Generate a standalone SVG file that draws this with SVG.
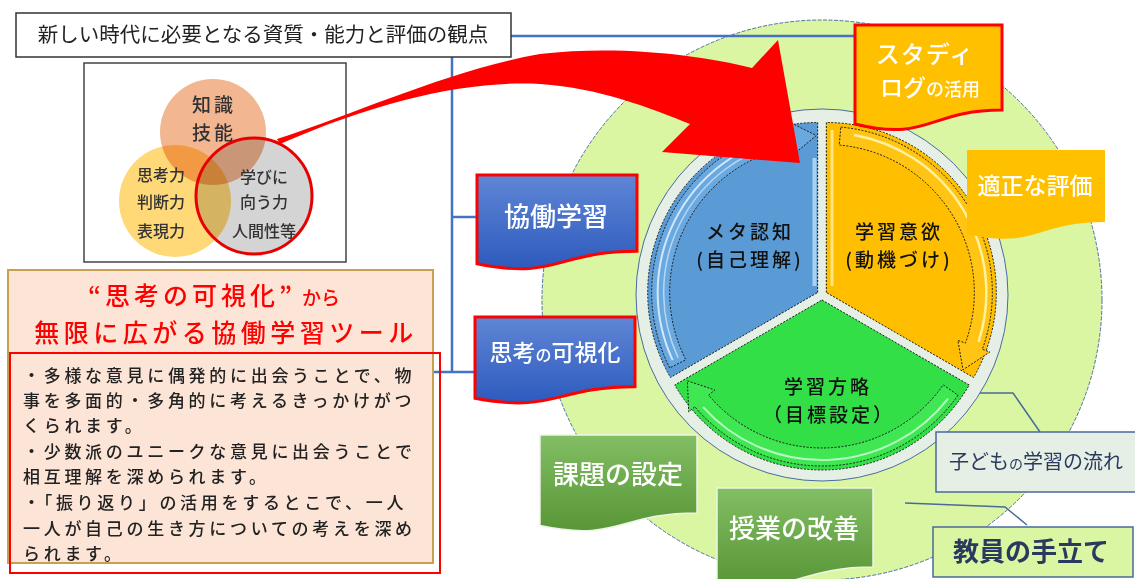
<svg xmlns="http://www.w3.org/2000/svg" width="1135" height="579" viewBox="0 0 1135 579">
<defs>
<style>
text{font-family:"Noto Sans CJK JP","Noto Sans",sans-serif}
.conn{stroke:#4472c4;stroke-width:2.5;fill:none}
.call{stroke:#4a6a9a;stroke-width:1.5;fill:none}
.dash{stroke:#1a1a1a;stroke-width:1;stroke-dasharray:2 1.5}
.w{fill:#fff;font-weight:500}
.pie{fill:#111;font-size:19px;letter-spacing:3px;text-anchor:middle;font-weight:500}
.venn{fill:#333;text-anchor:middle;font-weight:500}
.blt{fill:#222;font-size:17px;letter-spacing:3.7px;font-weight:500}
.navy{fill:#2a3a5e}
</style>
<linearGradient id="blueGrad" x1="0" y1="0" x2="0" y2="1"><stop offset="0" stop-color="#5f86d6"/><stop offset="1" stop-color="#2d5abd"/></linearGradient>
<linearGradient id="greenGrad" x1="0" y1="0" x2="0" y2="1"><stop offset="0" stop-color="#82be64"/><stop offset="1" stop-color="#589636"/></linearGradient>
</defs>
<rect width="1135" height="579" fill="#fff"/>

<g id="outer-circle">
<circle cx="822" cy="300" r="280" fill="#dbf6a2" stroke="#4f6fa6" stroke-width="1" stroke-dasharray="4 1.5"/>
</g>

<g id="pie">
<circle cx="822" cy="295" r="186" fill="#e6efe6" stroke="#4a6aa0" stroke-width="1"/>
<g id="sector-meta">
<path d="M817.67 292.5 L817.67 122.5 A170 170 0 0 0 670.45 377.5 Z" fill="#5b9bd5" class="dash"/>
<path d="M669.76 367.86 A166 166 0 0 1 788.84 129.02 L787.46 121.14 L816.3 135.5 L793.37 154.63 L791.98 146.75 A148 148 0 0 0 685.80 359.69 Z" fill="#6aa9e0" class="dash"/>
<path d="M672.66 360.12 A160 160 0 0 1 784.40 136.00" stroke="#d2e8fb" stroke-width="2" fill="none"/>
<path d="M678.10 357.58 A154 154 0 0 1 785.65 141.86" stroke="#b5d7f5" stroke-width="1.5" fill="none"/>
<line x1="814.5" y1="158" x2="814.5" y2="286" stroke="#a9d2f2" stroke-width="4"/>
<text class="pie" x="750" y="239">メタ認知</text>
<text class="pie" x="750" y="267">(自己理解)</text>
</g>
<g id="sector-motivation">
<path d="M826.33 292.5 L826.33 122.5 A170 170 0 0 1 973.55 377.5 Z" fill="#ffbf00" class="dash"/>
<path d="M840.80 127.13 A166 166 0 0 1 982.32 349.28 L989.84 352.01 L962.98 369.81 L957.89 340.38 L965.40 343.12 A148 148 0 0 0 839.23 145.06 Z" fill="#ffc414" class="dash"/>
<path d="M854.11 134.93 A160 160 0 0 1 978.50 341.94" stroke="#fff1a0" stroke-width="2.5" fill="none"/>
<line x1="832" y1="130" x2="832" y2="286" stroke="#ffe680" stroke-width="3"/>
<text class="pie" x="899" y="239">学習意欲</text>
<text class="pie" x="899" y="267">(動機づけ)</text>
</g>
<g id="sector-strategy">
<path d="M822 300 L969.22 385 A170 170 0 0 1 674.78 385 Z" fill="#33df47" class="dash"/>
<path d="M957.98 395.21 A166 166 0 0 1 694.84 406.70 L688.71 411.85 L687.42 380.86 L714.75 389.99 L708.63 395.13 A148 148 0 0 0 943.23 384.89 Z" fill="#3fe853" class="dash"/>
<path d="M948.08 398.51 A160 160 0 0 1 703.10 407.06" stroke="#b8f7c0" stroke-width="2" fill="none"/>
<text class="pie" x="828" y="394">学習方略</text>
<text class="pie" x="829" y="422">（目標設定）</text>
</g>
</g>

<g id="connectors">
<line class="conn" x1="510" y1="36" x2="857" y2="36"/>
<line class="conn" x1="452" y1="56" x2="452" y2="372"/>
<line class="conn" x1="452" y1="217" x2="478" y2="217"/>
<line class="conn" x1="433" y1="372" x2="476" y2="372"/>
<polyline class="call" points="980,393 1013,393 1040,432"/>
<polyline class="call" points="905,503 1005,507 1027,525"/>
</g>

<g id="title">
<rect x="16" y="13" width="495" height="44" fill="#fff" stroke="#333" stroke-width="1.5"/>
<text x="263" y="42" font-size="20.5" fill="#222" text-anchor="middle">新しい時代に必要となる資質・能力と評価の観点</text>
</g>

<g id="venn">
<rect x="84" y="63" width="262" height="199" fill="#fff" stroke="#444" stroke-width="1.5"/>
<g style="isolation:isolate">
<circle cx="213" cy="132" r="53" fill="#f2b690" style="mix-blend-mode:multiply"/>
<circle cx="175" cy="201" r="56" fill="#ffd877" style="mix-blend-mode:multiply"/>
<circle cx="254" cy="196" r="58" fill="#d4d4d4" style="mix-blend-mode:multiply"/>
</g>
<circle cx="254" cy="196" r="58" fill="none" stroke="#e60000" stroke-width="3"/>
<text class="venn" x="214" y="112" font-size="19" letter-spacing="3">知識</text>
<text class="venn" x="214" y="140" font-size="19" letter-spacing="3">技能</text>
<text class="venn" x="161" y="181" font-size="16">思考力</text>
<text class="venn" x="161" y="208" font-size="16">判断力</text>
<text class="venn" x="161" y="237" font-size="16">表現力</text>
<text class="venn" x="264" y="183" font-size="16">学びに</text>
<text class="venn" x="264" y="208" font-size="16">向う力</text>
<text class="venn" x="264" y="237" font-size="16">人間性等</text>
</g>

<g id="tool-panel">
<rect x="8" y="270" width="425" height="293" fill="#fce4d6" stroke="#c8a050" stroke-width="2"/>
<rect x="10" y="353" width="430" height="220" fill="none" stroke="#f00" stroke-width="2"/>
<text x="88" y="305" fill="#f00" font-weight="500"><tspan font-size="25" letter-spacing="4">“思考の可視化”</tspan><tspan font-size="19" dx="6">から</tspan></text>
<text x="226" y="342" fill="#f00" font-size="25" letter-spacing="4.5" font-weight="500" text-anchor="middle">無限に広がる協働学習ツール</text>
<text class="blt" x="23" y="382">・多様な意見に偶発的に出会うことで、物</text>
<text class="blt" x="23" y="407">事を多面的・多角的に考えるきっかけがつ</text>
<text class="blt" x="23" y="432">くられます。</text>
<text class="blt" x="23" y="458">・少数派のユニークな意見に出会うことで</text>
<text class="blt" x="23" y="483">相互理解を深められます。</text>
<text class="blt" x="23" y="509">・「振り返り」の活用をするとこで、一人</text>
<text class="blt" x="23" y="535">一人が自己の生き方についての考えを深め</text>
<text class="blt" x="23" y="560">られます。</text>
</g>

<g id="collab">
<path d="M477 175 H637 V251.2 C557 251.2 557 280.2 477 263.7 Z" fill="url(#blueGrad)" stroke="#f00" stroke-width="3"/>
<text class="w" x="556" y="226" font-size="26" text-anchor="middle">協働学習</text>
</g>

<g id="visualize">
<path d="M475 317 H635 V386.8 C555 386.8 555 413.3 475 398.3 Z" fill="url(#blueGrad)" stroke="#f00" stroke-width="3"/>
<text class="w" x="555" y="361" text-anchor="middle"><tspan font-size="23">思考</tspan><tspan font-size="16">の</tspan><tspan font-size="23">可視化</tspan></text>
</g>

<g id="studylog">
<path d="M855 25 H1002 V110 C928.5 110 928.5 142.3 855 124 Z" fill="#ffc000" stroke="#f00" stroke-width="3"/>
<text class="w" x="925" y="63" font-size="24" letter-spacing="1" text-anchor="middle">スタディ</text>
<text class="w" x="930" y="96" text-anchor="middle"><tspan font-size="23">ログ</tspan><tspan font-size="18">の活用</tspan></text>
</g>

<g id="evaluation">
<path d="M967 150 H1105 V222 C1036 222 1036 249.6 967 234 Z" fill="#ffc000"/>
<text class="w" x="1035" y="194" font-size="23" text-anchor="middle">適正な評価</text>
</g>

<g id="task">
<path d="M540 435 H697 V513 C618.5 513 618.5 542.4 540 525.6 Z" fill="url(#greenGrad)" stroke="#eef4e8" stroke-width="1.5"/>
<text class="w" x="618" y="484" font-size="26" text-anchor="middle">課題の設定</text>
</g>

<g id="lesson">
<path d="M717 488 H873 V567 C795 567 795 597 717 580 Z" fill="url(#greenGrad)" stroke="#eef4e8" stroke-width="1.5"/>
<text class="w" x="794" y="538" font-size="26" text-anchor="middle">授業の改善</text>
</g>

<g id="child-flow">
<rect x="936" y="432" width="205" height="60" fill="#e6efe6" stroke="#4a6a9a" stroke-width="1.5"/>
<text class="navy" x="1036" y="469" text-anchor="middle"><tspan font-size="20">子ども</tspan><tspan font-size="14">の</tspan><tspan font-size="20">学習の流れ</tspan></text>
</g>

<g id="teacher">
<rect x="933" y="527" width="200" height="50" fill="#dbf6a2" stroke="#4a6a9a" stroke-width="1.5"/>
<text class="navy" x="1031" y="561" font-size="26" font-weight="700" text-anchor="middle">教員の手立て</text>
</g>

<g id="red-arrow">
<path d="M277 139 C360 112 450 70 540 54 C620 45 700 55 752 68 L778 40 L800 163 L662 152 L690 124 C650 108 600 88 540 84 C470 80 380 100 280 144 Z" fill="#ff0000"/>
</g>
</svg>
